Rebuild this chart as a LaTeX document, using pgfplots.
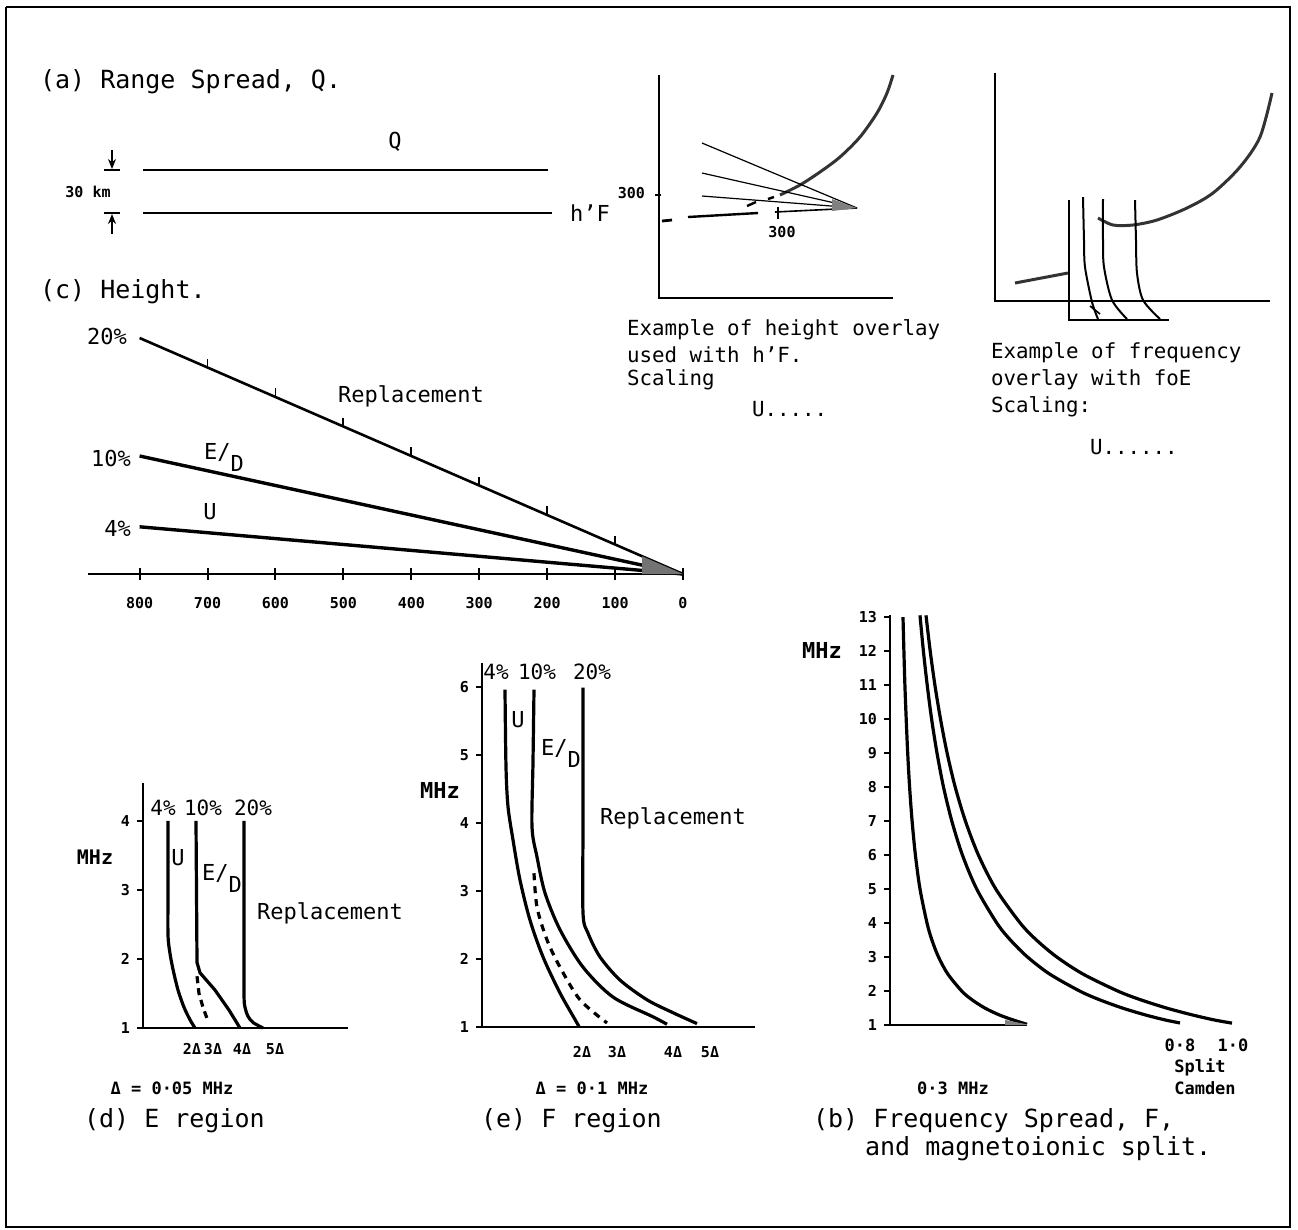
\documentclass[border=0pt]{standalone}
\usepackage{fontspec}
\setmainfont{DejaVu Sans Mono}
\usepackage{pgfplots}
\pgfplotsset{compat=1.18}
\usetikzlibrary{arrows.meta}
\newcommand\fT{\fontsize{12.5pt}{15pt}\selectfont}
\newcommand\fM{\fontsize{10.4pt}{12.5pt}\selectfont}
\newcommand\fR{\fontsize{11pt}{13pt}\selectfont}
\newcommand\fP{\fontsize{10.5pt}{12pt}\selectfont}
\newcommand\fS{\fontsize{8.5pt}{10pt}\selectfont\bfseries}
\newcommand\fN{\fontsize{7.5pt}{9pt}\selectfont\bfseries}
\newcommand\ED{\raisebox{0.3ex}{E/}\raisebox{-0.7ex}{D}}
\begin{document}
\begin{tikzpicture}
\useasboundingbox (0,0) rectangle (649pt,-615pt);
% ---------------- canvas in pixel units ----------------
\begin{axis}[at={(0pt,0pt)}, anchor=north west, scale only axis,
  width=649pt, height=615pt, xmin=0, xmax=1298, ymin=0, ymax=1230,
  y dir=reverse, hide axis, clip=false]
 % frame
 \addplot[black, line width=1.1pt] coordinates {(6,7)(1290,7)(1290,1227)(6,1227)(6,7)};
 % (a) range spread
 \addplot[black, line width=1.3pt] coordinates {(143,170)(548,170)};
 \addplot[black, line width=1.3pt] coordinates {(143,213)(552,213)};
 \addplot[black, line width=0.9pt, -{Stealth[length=5pt,width=4pt]}] coordinates {(112,150)(112,169)};
 \addplot[black, line width=0.9pt] coordinates {(104,170)(120,170)};
 \addplot[black, line width=0.9pt, -{Stealth[length=5pt,width=4pt]}] coordinates {(112,234)(112,214)};
 \addplot[black, line width=0.9pt] coordinates {(104,213)(120,213)};
 % height overlay example
 \addplot[black, line width=1pt] coordinates {(659,75)(659,298)(893,298)};
 \addplot[black, line width=0.8pt] coordinates {(655,195)(661,195)};
 \addplot[black!80, line width=1.5pt, smooth] coordinates {(780,195)(800,185)(820,172)(840,157)(860,137)(877,113)(887,93)(893,75)};
 \addplot[black, line width=0.6pt] coordinates {(702,143)(857,208)};
 \addplot[black, line width=0.6pt] coordinates {(702,173)(857,208)};
 \addplot[black, line width=0.6pt] coordinates {(702,196)(857,208)};
 \addplot[black, line width=0.8pt] coordinates {(775,212)(857,208)};
 \addplot[black, line width=1.2pt] coordinates {(688,217)(758,213)};
 \addplot[black, line width=1.4pt] coordinates {(662,221)(672,220)};
 \addplot[black, line width=1.2pt] coordinates {(747,206)(756,202)};
 \addplot[black, line width=1.2pt] coordinates {(768,199)(774,197)};
 \addplot[black, line width=0.8pt] coordinates {(778,207)(778,219)};
 \addplot[fill=black!50, draw=none] coordinates {(832,199)(857,208)(832,211)} -- cycle;
 % frequency overlay example
 \addplot[black, line width=1pt] coordinates {(995,73)(995,301)(1270,301)};
 \addplot[black!80, line width=1.5pt, smooth] coordinates {(1098,218)(1113,225)(1133,225)(1157,220)(1187,208)(1213,193)(1240,167)(1260,137)(1272,93)};
 \addplot[black!80, line width=1.5pt] coordinates {(1015,283)(1068,273)};
 \addplot[black, line width=1pt] coordinates {(1069,200)(1069,320)(1169,320)};
 \addplot[black, line width=1pt, smooth] coordinates {(1083,197)(1084,240)(1085,267)(1092,302)(1098,319)};
 \addplot[black, line width=1pt, smooth] coordinates {(1103,199)(1103,240)(1104,267)(1112,300)(1127,319)};
 \addplot[black, line width=1pt, smooth] coordinates {(1135,200)(1136,240)(1137,273)(1143,300)(1160,319)};
 \addplot[black, line width=0.8pt] coordinates {(1090,306)(1100,314)};
 % anchor points for the data axes
 \coordinate (cC) at (axis cs:683,574);
 \coordinate (cD) at (axis cs:143,1028);
 \coordinate (cE) at (axis cs:482,1027);
 \coordinate (cB) at (axis cs:890,1025);
 % ---- texts ----
 \node[anchor=west, font=\fT] at (axis cs:33,82) {(a) Range Spread, Q.};
 \node[font=\fR] at (axis cs:395,142) {Q};
 \node[font=\fN] at (axis cs:88,192) {30 km};
 \node[anchor=west, font=\fR] at (axis cs:563,213) {h'F};
 \node[anchor=west, font=\fT] at (axis cs:33,292) {(c) Height.};
 \node[anchor=east, font=\fN] at (axis cs:652,193) {300};
 \node[font=\fN] at (axis cs:782,232) {300};
 \node[anchor=west, font=\fM] at (axis cs:620,330) {Example of height overlay};
 \node[anchor=west, font=\fM] at (axis cs:620,355) {used with  h'F.};
 \node[anchor=west, font=\fM] at (axis cs:620,380) {Scaling};
 \node[anchor=west, font=\fM] at (axis cs:745,409) {U.....};
 \node[anchor=west, font=\fM] at (axis cs:984,353) {Example of frequency};
 \node[anchor=west, font=\fM] at (axis cs:984,380) {overlay with  foE};
 \node[anchor=west, font=\fM] at (axis cs:984,407) {Scaling:};
 \node[anchor=west, font=\fM] at (axis cs:1083,447) {U......};
 % (c) labels
 \node[anchor=east, font=\fR] at (axis cs:134,336) {20\%};
 \node[anchor=east, font=\fR] at (axis cs:138,458) {10\%};
 \node[anchor=east, font=\fR] at (axis cs:138,528) {4\%};
 \node[font=\fR] at (axis cs:411,396) {Replacement};
 \node[font=\fR] at (axis cs:224,457) {\ED};
 \node[font=\fR] at (axis cs:210,512) {U};
 % (d) labels
 \node[font=\fP] at (axis cs:163,808) {4\%};
 \node[font=\fP] at (axis cs:203,808) {10\%};
 \node[font=\fP] at (axis cs:253,808) {20\%};
 \node[font=\fR] at (axis cs:178,858) {U};
 \node[font=\fR] at (axis cs:222,878) {\ED};
 \node[anchor=west, font=\fR] at (axis cs:250,913) {Replacement};
 \node[font=\fontsize{10pt}{12pt}\selectfont\bfseries] at (axis cs:95,857) {MHz};
 \node[font=\fS] at (axis cs:172,1088) {Δ = 0·05 MHz};
 \node[anchor=west, font=\fT] at (axis cs:77,1121) {(d) E region};
 % (e) labels
 \node[font=\fP] at (axis cs:496,672) {4\%};
 \node[font=\fP] at (axis cs:537,672) {10\%};
 \node[font=\fP] at (axis cs:592,672) {20\%};
 \node[font=\fR] at (axis cs:518,720) {U};
 \node[font=\fR] at (axis cs:561,753) {\ED};
 \node[font=\fR] at (axis cs:673,818) {Replacement};
 \node[font=\fontsize{11pt}{13pt}\selectfont\bfseries] at (axis cs:440,790) {MHz};
 \node[font=\fS] at (axis cs:592,1088) {Δ = 0·1 MHz};
 \node[anchor=west, font=\fT] at (axis cs:474,1121) {(e) F region};
 % (b) labels
 \node[font=\fontsize{11pt}{13pt}\selectfont\bfseries] at (axis cs:822,650) {MHz};
 \node[font=\fS] at (axis cs:1180,1045) {0·8};
 \node[font=\fS] at (axis cs:1233,1045) {1·0};
 \node[font=\fS] at (axis cs:1200,1067) {Split};
 \node[font=\fS] at (axis cs:1205,1088) {Camden};
 \node[font=\fS] at (axis cs:953,1088) {0·3 MHz};
 \node[anchor=west, font=\fT] at (axis cs:806,1121) {(b) Frequency Spread, F,};
 \node[anchor=west, font=\fT] at (axis cs:858,1149) {and magnetoionic split.};
\end{axis}
% ---------------- (c) Height ----------------
\begin{axis}[at={(cC)}, anchor=south east, scale only axis,
  width=297.5pt, height=118pt, xmin=0, xmax=876, ymin=0, ymax=160,
  x dir=reverse, axis x line*=bottom, axis y line=none,
  axis line style={line width=1.4pt}, xtick={0,100,...,800}, ytick=\empty,
  tick align=center, major tick length=6pt, xtick style={line width=1pt, black},
  xticklabel style={font=\fN, yshift=-5pt}, clip=false,
  /pgf/number format/assume math mode=true]
 \addplot[black, line width=1.3pt] coordinates {(800,160)(0,0)};
 \addplot[black, line width=1.7pt] coordinates {(800,80)(0,0)};
 \addplot[black, line width=1.7pt] coordinates {(800,32)(0,0)};
 \addplot[black, line width=0.9pt, unbounded coords=jump] coordinates {
  (700,140)(700,146)(700,nan)(600,120)(600,126)(600,nan)(500,100)(500,106)(500,nan)
  (400,80)(400,86)(400,nan)(300,60)(300,66)(300,nan)(200,40)(200,46)(200,nan)(100,20)(100,26)};
 \addplot[fill=black!55, draw=none] coordinates {(0,0)(60,12)(60,0)} -- cycle;
\end{axis}
% ---------------- (d) E region ----------------
\begin{axis}[at={(cD)}, anchor=south west, scale only axis,
  width=102.5pt, height=122.5pt, xmin=0, xmax=205, ymin=1, ymax=4.55,
  axis x line*=bottom, axis y line*=left, axis line style={line width=1.3pt},
  ytick={1,2,3,4}, xtick={49,70,99,132}, xticklabels={2Δ,3Δ,4Δ,5Δ},
  xtick style={draw=none}, ytick style={line width=0.8pt, black},
  tick align=outside, major tick length=3pt,
  ticklabel style={font=\fN}, xticklabel style={yshift=-1pt}, clip=false,
  /pgf/number format/assume math mode=true]
 \addplot[black, line width=1.6pt, smooth] coordinates {(25,4.0)(25,3.0)(25,2.35)(27,2.08)(30,1.85)(35,1.55)(41,1.3)(47,1.12)(52,1.0)};
 \addplot[black, line width=1.6pt] coordinates {(53,4.0)(54,1.95)(57,1.8)(72,1.55)(86,1.26)(97,1.0)};
 \addplot[black, line width=1.6pt, dash pattern=on 3.5pt off 2.5pt] coordinates {(54,1.75)(56,1.5)(60,1.3)(65,1.1)};
 \addplot[black, line width=1.6pt, smooth] coordinates {(101,4.0)(101,2.5)(101,1.5)(102,1.3)(105,1.17)(110,1.08)(120,1.0)};
\end{axis}
% ---------------- (e) F region ----------------
\begin{axis}[at={(cE)}, anchor=south west, scale only axis,
  width=136.5pt, height=182pt, xmin=0, xmax=273, ymin=1, ymax=6.35,
  axis x line*=bottom, axis y line*=left, axis line style={line width=1.3pt},
  ytick={1,2,3,4,5,6}, xtick={100,135,191,228}, xticklabels={2Δ,3Δ,4Δ,5Δ},
  xtick style={draw=none}, ytick style={line width=0.8pt, black},
  tick align=outside, major tick length=3pt,
  ticklabel style={font=\fN}, xticklabel style={yshift=-3pt}, clip=false,
  /pgf/number format/assume math mode=true]
 \addplot[black, line width=1.6pt, smooth] coordinates {(23,5.96)(24,4.82)(26,4.24)(31,3.75)(38,3.16)(48,2.57)(61,2.03)(78,1.5)(95,1.06)(97,1.0)};
 \addplot[black, line width=1.6pt, smooth] coordinates {(52,5.96)(51,4.9)(50,3.94)(55,3.5)(63,2.97)(78,2.43)(101,1.88)(131,1.44)(171,1.15)(185,1.04)};
 \addplot[black, line width=1.6pt, smooth, dash pattern=on 3.5pt off 3pt] coordinates {(52,3.26)(55,2.76)(65,2.28)(78,1.88)(98,1.4)(125,1.06)};
 \addplot[black, line width=1.6pt, smooth] coordinates {(101,5.99)(101,4.0)(101,2.68)(106,2.38)(118,2.03)(138,1.69)(165,1.4)(191,1.21)(215,1.05)};
\end{axis}
% ---------------- (b) Frequency spread ----------------
\begin{axis}[at={(cB)}, anchor=south west, scale only axis,
  width=175pt, height=205pt, xmin=0, xmax=350, ymin=1, ymax=13.06,
  axis x line=none, axis y line*=left, axis line style={line width=1.3pt},
  ytick={1,2,...,13}, ytick style={line width=0.8pt, black},
  tick align=outside, major tick length=3pt,
  ticklabel style={font=\fN}, clip=false,
  /pgf/number format/assume math mode=true]
 \addplot[black, line width=1.3pt] coordinates {(0,1)(137,1)};
 \addplot[black, line width=1.6pt, smooth] coordinates {(13.0,13)(13.9,12)(14.9,11)(16.2,10)(17.7,9)(19.6,8)(22.1,7)(25.4,6)(30.0,5)(37.0,4)(41.9,3.5)(48.5,3)(57.8,2.5)(71.7,2)(81.6,1.75)(94.8,1.5)(109.0,1.3)(122.9,1.15)(137,1.02)};
 \addplot[black, line width=1.6pt, smooth] coordinates {(30.0,13.05)(33.4,12)(37.2,11)(41.6,10)(47.0,9)(53.5,8)(61.8,7)(72.4,6)(86.7,5)(106.8,4)(120.4,3.5)(137.5,3)(159.6,2.5)(189.6,2)(208.9,1.75)(232.3,1.5)(254.9,1.3)(274.9,1.15)(290,1.06)};
 \addplot[black, line width=1.6pt, smooth] coordinates {(36.0,13.05)(40.2,12)(44.9,11)(50.5,10)(57.1,9)(65.2,8)(75.4,7)(88.4,6)(105.8,5)(130.2,4)(146.4,3.5)(166.8,3)(192.9,2.5)(227.7,2)(249.8,1.75)(276.4,1.5)(301.8,1.3)(324,1.15)(342,1.055)};
 \addplot[fill=black!50, draw=none] coordinates {(115,1)(115,1.15)(137,1.02)(137,1)} -- cycle;
\end{axis}
\end{tikzpicture}
\end{document}
